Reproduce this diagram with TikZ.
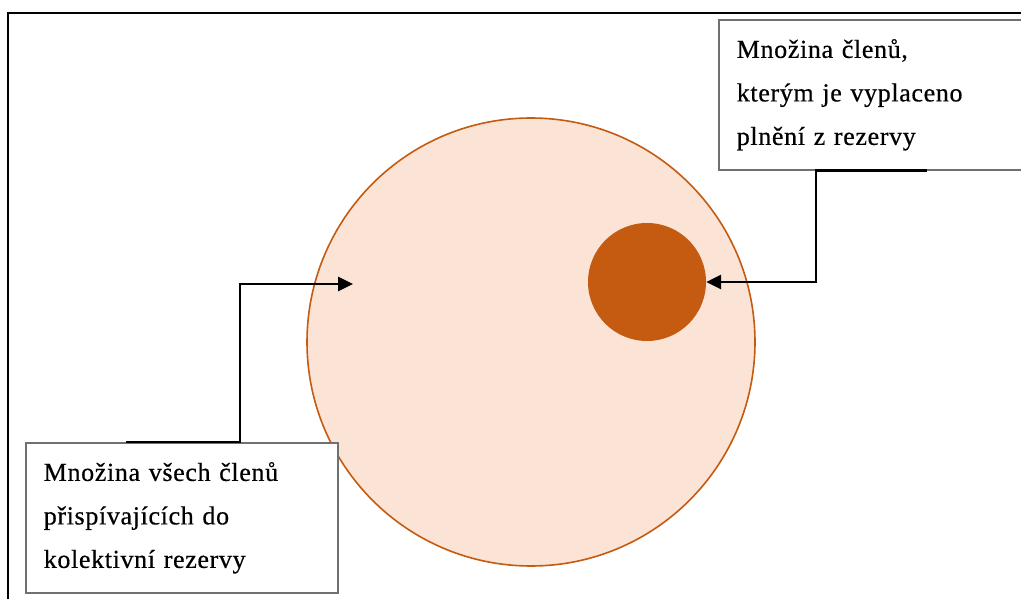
\documentclass[tikz,border=0pt]{standalone}
\usepackage{fontspec}
\setmainfont{Liberation Serif}
\newfontfamily\labelfont{Liberation Serif}[FakeBold=0.5, LetterSpace=2.5]
\usetikzlibrary{arrows.meta,calc}
\definecolor{setfill}{HTML}{FBE4D6}
\definecolor{setedge}{HTML}{C55A11}
\definecolor{boxedge}{HTML}{707070}
\tikzset{
  setcircle/.style={circle, draw=setedge, fill=setfill, line width=1.6pt, inner sep=0pt},
  subsetdot/.style={circle, fill=setedge, inner sep=0pt},
  labelbox/.style={draw=boxedge, line width=1.6pt, fill=white, rectangle,
    minimum width=312pt, minimum height=150pt, text width=276pt,
    inner xsep=18pt, align=left, font=\labelfont\fontsize{26}{43.5}\selectfont},
  pointer/.style={draw=black, line width=2.8pt, line cap=rect,
    -{Triangle[length=15pt,width=14pt]}},
  frameline/.style={draw=black, line width=2.4pt}
}
\begin{document}
\begin{tikzpicture}[x=1pt,y=-1pt]
\useasboundingbox (0,0) rectangle (1021,599);
% outer frame edges
\draw[frameline] (8,640) -- (8,13) -- (1040,13);
% the two sets
\node[setcircle, minimum size=448pt] (all) at (531,342) {};
\node[subsetdot, minimum size=118pt] (paid) at (647,282) {};
% label boxes
\node[labelbox, anchor=north west] (paidlabel) at (718,19)
  {Množina členů,\\kterým je vyplaceno\\plnění z rezervy};
\node[labelbox, anchor=north west] (alllabel) at (25,442)
  {Množina všech členů\\přispívajících do\\kolektivní rezervy};
% connectors
\coordinate (paidstub) at ($(paidlabel.south west)+(208,0)$);
\coordinate (paidbend) at ($(paidlabel.south west)+(98,0)$);
\draw[pointer] (paidstub) -- (paidbend) |- (paid.east);
\coordinate (allstart) at ($(alllabel.north west)+(102,0)$);
\coordinate (allbend) at ($(alllabel.north west)+(215,0)$);
\coordinate (alltip) at (353,284);
\draw[pointer] (allstart) -- (allbend) |- (alltip);
\end{tikzpicture}
\end{document}
